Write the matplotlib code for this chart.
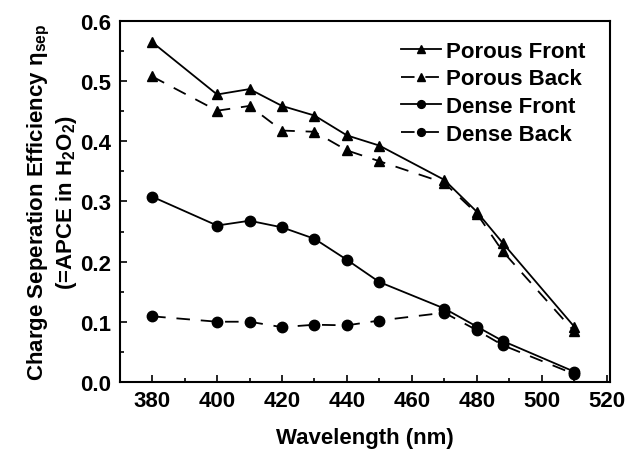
import matplotlib
matplotlib.use("Agg")
import matplotlib.pyplot as plt
from matplotlib.ticker import MultipleLocator

plt.rcParams['font.family'] = ['Liberation Sans', 'DejaVu Sans']
plt.rcParams['font.weight'] = 'bold'
plt.rcParams['mathtext.fontset'] = 'custom'
plt.rcParams['mathtext.rm'] = 'Liberation Sans'
plt.rcParams['mathtext.it'] = 'Liberation Sans:italic'
plt.rcParams['mathtext.bf'] = 'Liberation Sans:bold'

wavelength = [380, 400, 410, 420, 430, 440, 450, 470, 480, 488, 510]
porous_front = [0.565, 0.478, 0.487, 0.459, 0.443, 0.410, 0.393, 0.336, 0.283, 0.231, 0.092]
porous_back = [0.508, 0.451, 0.459, 0.418, 0.416, 0.385, 0.367, 0.331, 0.280, 0.217, 0.084]
dense_front = [0.308, 0.260, 0.268, 0.257, 0.238, 0.203, 0.166, 0.122, 0.092, 0.068, 0.017]
dense_back = [0.109, 0.100, 0.100, 0.091, 0.095, 0.094, 0.102, 0.115, 0.086, 0.061, 0.013]

series = [
    ("Porous Front", porous_front, '-', '^'),
    ("Porous Back", porous_back, '--', '^'),
    ("Dense Front", dense_front, '-', 'o'),
    ("Dense Back", dense_back, '--', 'o'),
]

fig = plt.figure(figsize=(6.3, 4.52), dpi=100)
ax = fig.add_axes([0.19, 0.153, 0.778, 0.798])

for label, vals, ls, mk in series:
    ax.plot(wavelength, vals, linestyle=ls, marker=mk, color='black',
            markersize=7.5, linewidth=1.3, label=label,
            dashes=(7.5, 6) if ls == '--' else (None, None))

ax.set_xlim(370, 521)
ax.set_ylim(0.0, 0.6)
ax.xaxis.set_major_locator(MultipleLocator(20))
ax.xaxis.set_minor_locator(MultipleLocator(10))
ax.yaxis.set_major_locator(MultipleLocator(0.1))
ax.yaxis.set_minor_locator(MultipleLocator(0.05))
ax.yaxis.set_major_formatter(matplotlib.ticker.FormatStrFormatter('%.1f'))
ax.tick_params(which='both', direction='in', labelsize=16, width=1.2, pad=6)
ax.tick_params(which='major', length=5)
ax.tick_params(which='minor', length=3)
for s in ax.spines.values():
    s.set_linewidth(1.5)

ax.set_xlabel("Wavelength (nm)", fontsize=16, fontweight='bold', labelpad=11.5)
ax.set_ylabel("Charge Seperation Efficiency $\\mathrm{\\eta}_{\\mathrm{sep}}$\n(=APCE in H$_{\\mathbf{2}}$O$_{\\mathbf{2}}$)",
              fontsize=16, fontweight='bold', linespacing=1.1, labelpad=1)

leg = ax.legend(loc='upper right', bbox_to_anchor=(0.982, 0.989), frameon=False,
                fontsize=16, handlelength=1.8, handletextpad=0.25,
                labelspacing=0.3, borderaxespad=0.3, markerscale=0.75)

fig.savefig("out.png", dpi=100)
